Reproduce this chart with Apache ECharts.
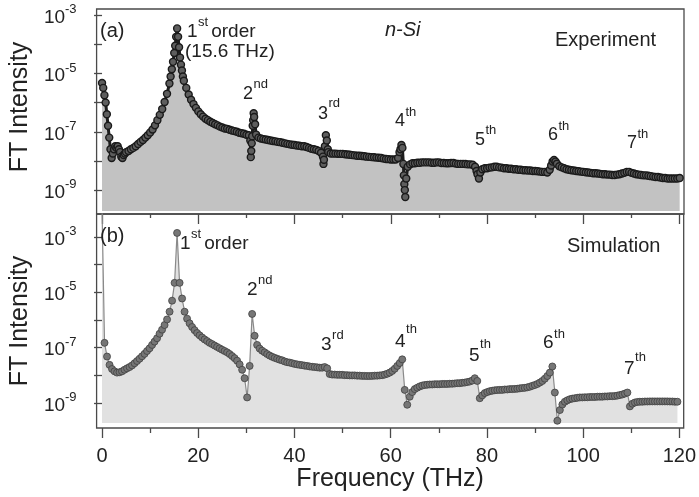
<!DOCTYPE html>
<html>
<head>
<meta charset="utf-8">
<script src="https://cdn.jsdelivr.net/npm/echarts@6/dist/echarts.min.js"></script>
<style>html,body{margin:0;padding:0;background:#fff}#chart{width:699px;height:497px}</style>
</head>
<body>
<div id="chart"></div>
<script>
// ---------------- data ----------------
// Experiment (panel a): [frequency THz, FT intensity]
const experiment = [
[0,4.7e-6],[0.25,3.2e-6],[0.5,1.8e-6],[0.75,1.0e-6],[1.0,4.0e-7],[1.25,1.6e-7],[1.5,6.3e-8],[1.75,2.5e-8],[2.0,1.26e-8],[2.25,1.8e-8],
[2.5,2.5e-8],[2.75,3.2e-8],[3.0,2.8e-8],[3.25,3.2e-8],[3.5,2.5e-8],[3.75,2.0e-8],[4.0,1.4e-8],[4.25,1.26e-8],[4.5,1.6e-8],[4.75,1.8e-8],
[5.0,2.0e-8],[5.5,2.2e-8],[6.0,2.5e-8],[6.5,2.8e-8],[7.0,3.2e-8],[7.5,3.8e-8],[8.0,4.5e-8],[8.5,5.2e-8],[9.0,6.3e-8],[9.5,7.6e-8],
[10.0,9.5e-8],[10.5,1.2e-7],[11.0,1.66e-7],[11.5,2.5e-7],[12.0,3.8e-7],[12.5,6.0e-7],[13.0,1.05e-6],[13.5,2.0e-6],[14.0,4.5e-6],[14.25,7.9e-6],
[14.5,1.4e-5],[14.75,2.5e-5],[15.0,5.0e-5],[15.2,8.9e-5],[15.4,1.8e-4],[15.6,3.5e-4],[15.8,1.8e-4],[16.0,7.9e-5],[16.2,3.5e-5],[16.4,2.0e-5],
[16.6,1.26e-5],[16.8,7.9e-6],[17.0,5.6e-6],[17.5,3.2e-6],[18.0,1.9e-6],[18.5,1.26e-6],[19.0,8.9e-7],[19.5,6.6e-7],[20.0,5.0e-7],[20.5,4.0e-7],
[21.0,3.3e-7],[21.5,2.8e-7],[22.0,2.5e-7],[22.5,2.2e-7],[23.0,2.0e-7],[23.5,1.8e-7],[24.0,1.66e-7],[24.5,1.5e-7],[25.0,1.4e-7],[25.5,1.3e-7],
[26.0,1.26e-7],[26.5,1.17e-7],[27.0,1.1e-7],[27.5,1.05e-7],[28.0,1.0e-7],[28.5,9.3e-8],[29.0,8.9e-8],[29.5,8.5e-8],[30.0,7.9e-8],[30.5,7.6e-8],
[30.8,5.0e-8],[30.9,1.35e-8],[31.0,2.2e-8],[31.1,4.0e-8],[31.2,7.0e-8],[31.3,1.6e-7],[31.4,2.5e-7],[31.5,4.3e-7],[31.6,3.2e-7],[31.8,1.8e-7],
[32.0,8.0e-8],[32.5,6.3e-8],[33.0,5.9e-8],[33.5,5.6e-8],[34.0,5.4e-8],[34.5,5.2e-8],[35.0,5.0e-8],[35.5,4.8e-8],[36.0,4.7e-8],[36.5,4.5e-8],
[37.0,4.4e-8],[37.5,4.2e-8],[38.0,4.0e-8],[38.5,3.85e-8],[39.0,3.7e-8],[39.5,3.6e-8],[40.0,3.5e-8],[40.5,3.4e-8],[41.0,3.3e-8],[41.5,3.2e-8],
[42.0,3.2e-8],[42.5,3.0e-8],[43.0,2.8e-8],[43.5,2.6e-8],[44.0,2.5e-8],[44.5,2.4e-8],[45.0,2.2e-8],[45.5,1.9e-8],[45.9,1.4e-8],[46.0,7.9e-9],
[46.1,1.1e-8],[46.3,3.2e-8],[46.5,7.6e-8],[46.7,5.0e-8],[46.9,2.5e-8],[47.0,2.0e-8],[47.5,1.8e-8],[48.0,1.78e-8],[48.5,1.78e-8],[49.0,1.75e-8],
[49.5,1.75e-8],[50.0,1.74e-8],[50.5,1.7e-8],[51.0,1.66e-8],[51.5,1.62e-8],[52.0,1.58e-8],[52.5,1.55e-8],[53.0,1.5e-8],[53.5,1.5e-8],[54.0,1.48e-8],
[54.5,1.45e-8],[55.0,1.4e-8],[55.5,1.38e-8],[56.0,1.35e-8],[56.5,1.33e-8],[57.0,1.3e-8],[57.5,1.28e-8],[58.0,1.26e-8],[58.5,1.2e-8],[59.0,1.17e-8],
[59.5,1.15e-8],[60.0,1.12e-8],[60.5,1.12e-8],[61.0,1.12e-8],[61.5,1.26e-8],[61.8,2.0e-8],[62.0,2.5e-8],[62.2,3.5e-8],[62.4,2.8e-8],[62.6,7.9e-9],
[62.7,3.2e-9],[62.8,1.6e-9],[62.9,1.0e-9],[63.0,5.8e-10],[63.2,2.5e-9],[63.5,6.3e-9],[64.0,7.6e-9],[64.5,8.3e-9],[65.0,8.3e-9],[65.5,8.7e-9],
[66.0,8.7e-9],[66.5,8.9e-9],[67.0,8.9e-9],[67.5,8.9e-9],[68.0,8.9e-9],[68.5,8.7e-9],[69.0,8.7e-9],[69.5,8.9e-9],[70.0,8.9e-9],[70.5,8.5e-9],
[71.0,8.5e-9],[71.5,8.3e-9],[72.0,8.3e-9],[72.5,8.5e-9],[73.0,8.5e-9],[73.5,8.1e-9],[74.0,7.9e-9],[74.5,7.9e-9],[75.0,7.9e-9],[75.5,7.8e-9],
[76.0,7.6e-9],[76.5,7.6e-9],[77.0,7.4e-9],[77.5,6.3e-9],[77.8,4.5e-9],[78.0,3.5e-9],[78.3,2.5e-9],[78.6,4.0e-9],[79.0,5.2e-9],[79.5,5.6e-9],
[80.0,5.6e-9],[80.5,5.9e-9],[81.0,6.0e-9],[81.5,6.3e-9],[82.0,6.3e-9],[82.5,6.0e-9],[83.0,5.9e-9],[83.5,5.6e-9],[84.0,5.6e-9],[84.5,5.4e-9],
[85.0,5.4e-9],[85.5,5.2e-9],[86.0,5.2e-9],[86.5,5.0e-9],[87.0,5.0e-9],[87.5,4.8e-9],[88.0,4.8e-9],[88.5,4.7e-9],[89.0,4.7e-9],[89.5,4.5e-9],
[90.0,4.5e-9],[90.5,4.4e-9],[91.0,4.3e-9],[91.5,4.2e-9],[92.0,4.2e-9],[92.5,4.0e-9],[93.0,5.0e-9],[93.3,7.0e-9],[93.6,9.5e-9],[93.9,1.07e-8],
[94.2,9.5e-9],[94.5,8.0e-9],[95.0,6.6e-9],[95.5,6.0e-9],[96.0,5.6e-9],[96.5,5.2e-9],[97.0,5.0e-9],[97.5,4.8e-9],[98.0,4.7e-9],[98.5,4.5e-9],
[99.0,4.4e-9],[99.5,4.3e-9],[100.0,4.2e-9],[100.5,4.1e-9],[101.0,4.0e-9],[101.5,3.9e-9],[102.0,3.8e-9],[102.5,3.8e-9],[103.0,3.7e-9],[103.5,3.6e-9],
[104.0,3.5e-9],[104.5,3.5e-9],[105.0,3.4e-9],[105.5,3.4e-9],[106.0,3.3e-9],[106.5,3.3e-9],[107.0,3.4e-9],[107.5,3.5e-9],[108.0,3.7e-9],[108.5,3.9e-9],
[109.0,4.2e-9],[109.5,4.2e-9],[110.0,3.9e-9],[110.5,3.7e-9],[111.0,3.5e-9],[111.5,3.4e-9],[112.0,3.3e-9],[112.5,3.2e-9],[113.0,3.2e-9],[113.5,3.1e-9],
[114.0,3.0e-9],[114.5,2.9e-9],[115.0,2.8e-9],[115.5,2.8e-9],[116.0,2.7e-9],[116.5,2.6e-9],[117.0,2.6e-9],[117.5,2.5e-9],[118.0,2.5e-9],[118.5,2.5e-9],
[119.0,2.5e-9],[119.5,2.5e-9],[120.0,2.6e-9]
];

// Simulation (panel b)
const simFreq = [
0,0.52,1.04,1.56,2.08,2.6,3.12,3.64,4.16,4.68,
5.2,5.72,6.24,6.76,7.28,7.8,8.32,8.84,9.36,9.88,
10.4,10.92,11.44,11.96,12.48,13,13.52,14.04,14.56,15.08,
15.6,16.12,16.64,17.16,17.68,18.2,18.72,19.24,19.76,20.28,
20.8,21.32,21.84,22.36,22.88,23.4,23.92,24.44,24.96,25.48,
26,26.52,27.04,27.56,28.08,28.6,29.12,29.64,30.16,30.68,
31.2,31.72,32.24,32.76,33.28,33.8,34.32,34.84,35.36,35.88,
36.4,36.92,37.44,37.96,38.48,39,39.52,40.04,40.56,41.08,
41.6,42.12,42.64,43.16,43.68,44.2,44.72,45.24,45.76,46.28,
46.8,47.32,47.84,48.36,48.88,49.4,49.92,50.44,50.96,51.48,
52,52.52,53.04,53.56,54.08,54.6,55.12,55.64,56.16,56.68,
57.2,57.72,58.24,58.76,59.28,59.8,60.32,60.84,61.36,61.88,
62.4,62.92,63.44,63.96,64.48,65,65.52,66.04,66.56,67.08,
67.6,68.12,68.64,69.16,69.68,70.2,70.72,71.24,71.76,72.28,
72.8,73.32,73.84,74.36,74.88,75.4,75.92,76.44,76.96,77.48,
78,78.52,79.04,79.56,80.08,80.6,81.12,81.64,82.16,82.68,
83.2,83.72,84.24,84.76,85.28,85.8,86.32,86.84,87.36,87.88,
88.4,88.92,89.44,89.96,90.48,91,91.52,92.04,92.56,93.08,
93.6,94.12,94.64,95.16,95.68,96.2,96.72,97.24,97.76,98.28,
98.8,99.32,99.84,100.36,100.88,101.4,101.92,102.44,102.96,103.48,
104,104.52,105.04,105.56,106.08,106.6,107.12,107.64,108.16,108.68,
109.2,109.72,110.24,110.76,111.28,111.8,112.32,112.84,113.36,113.88,
114.4,114.92,115.44,115.96,116.48,117,117.52,118.04,118.56,119.08,
119.6
];
const simIntensity = [
1e-2,1.5e-7,4.8e-8,2.4e-8,1.7e-8,1.4e-8,1.26e-8,1.3e-8,1.4e-8,1.6e-8,
1.8e-8,2.0e-8,2.3e-8,2.75e-8,3.3e-8,4.0e-8,4.9e-8,6.0e-8,7.6e-8,9.5e-8,
1.26e-7,1.66e-7,2.2e-7,3.2e-7,4.5e-7,6.6e-7,1.05e-6,2.0e-6,5.0e-6,2.2e-5,
1.4e-3,2.2e-5,6.0e-6,2.0e-6,1.12e-6,7.6e-7,5.6e-7,4.3e-7,3.4e-7,2.8e-7,
2.35e-7,2.0e-7,1.74e-7,1.5e-7,1.35e-7,1.2e-7,1.07e-7,9.5e-8,8.5e-8,7.6e-8,
6.8e-8,5.9e-8,5.0e-8,4.2e-8,3.4e-8,2.5e-8,1.6e-8,7.9e-9,1.6e-9,2.2e-8,
1.66e-6,2.7e-7,1.26e-7,9.3e-8,7.8e-8,6.8e-8,5.9e-8,5.2e-8,4.7e-8,4.3e-8,
4.0e-8,3.7e-8,3.5e-8,3.2e-8,3.0e-8,2.9e-8,2.75e-8,2.6e-8,2.5e-8,2.4e-8,
2.35e-8,2.25e-8,2.2e-8,2.1e-8,2.05e-8,2.0e-8,1.95e-8,1.9e-8,1.9e-8,2.0e-8,
1.8e-8,1.12e-8,1.07e-8,1.07e-8,1.05e-8,1.05e-8,1.05e-8,1.02e-8,1.02e-8,1.0e-8,
1.0e-8,1.0e-8,9.8e-9,9.8e-9,9.6e-9,9.6e-9,9.5e-9,9.5e-9,9.6e-9,9.8e-9,
9.8e-9,1.0e-8,1.02e-8,1.07e-8,1.15e-8,1.26e-8,1.45e-8,1.74e-8,2.2e-8,2.8e-8,
3.8e-8,3.0e-9,8.7e-10,1.7e-9,2.5e-9,3.2e-9,3.6e-9,4.0e-9,4.3e-9,4.5e-9,
4.6e-9,4.7e-9,4.7e-9,4.8e-9,4.8e-9,4.8e-9,4.9e-9,4.9e-9,4.9e-9,5.0e-9,
5.0e-9,5.1e-9,5.25e-9,5.25e-9,5.4e-9,5.5e-9,5.75e-9,6.0e-9,6.5e-9,7.9e-9,
6.3e-9,1.5e-9,1.9e-9,2.3e-9,2.5e-9,2.7e-9,2.8e-9,2.9e-9,2.95e-9,3.0e-9,
3.0e-9,3.1e-9,3.1e-9,3.2e-9,3.2e-9,3.25e-9,3.3e-9,3.4e-9,3.5e-9,3.55e-9,
3.7e-9,3.9e-9,4.2e-9,4.5e-9,4.9e-9,5.5e-9,6.3e-9,7.6e-9,9.5e-9,1.26e-8,
2.1e-8,2.4e-9,2.3e-10,5.6e-10,8.9e-10,1.12e-9,1.26e-9,1.38e-9,1.45e-9,1.5e-9,
1.55e-9,1.6e-9,1.6e-9,1.62e-9,1.62e-9,1.66e-9,1.66e-9,1.66e-9,1.7e-9,1.7e-9,
1.7e-9,1.74e-9,1.74e-9,1.78e-9,1.78e-9,1.8e-9,1.86e-9,1.95e-9,2.05e-9,2.2e-9,
2.4e-9,7.6e-10,9.5e-10,1.05e-9,1.1e-9,1.12e-9,1.12e-9,1.14e-9,1.14e-9,1.15e-9,
1.15e-9,1.15e-9,1.15e-9,1.15e-9,1.15e-9,1.15e-9,1.15e-9,1.14e-9,1.14e-9,1.12e-9,
1.12e-9
];

// tick values
const xMajorTicks = [0, 20, 40, 60, 80, 100, 120];
const xMinorTicks = [10, 30, 50, 70, 90, 110];
const yTickValues = [1e-9, 1e-8, 1e-7, 1e-6, 1e-5, 1e-4, 1e-3];
const yLabelValues = [1e-9, 1e-7, 1e-5, 1e-3];

// ---------------- styling / layout ----------------
const FONT = '"Liberation Sans", Arial, Helvetica, sans-serif';
const TEXT = '#222';
const AXIS = '#4a4a4a';
const X_MIN = -1.13, X_MAX = 120.9;
const TOP_Y_MIN = Math.pow(10, -9.82), TOP_Y_MAX = Math.pow(10, -2.79);
const BOT_Y_MIN = Math.pow(10, -9.9), BOT_Y_MAX = Math.pow(10, -2.17);
const FILL_BASE = Math.pow(10, -9.72);

const simData = simFreq.map((f, i) => [f, simIntensity[i]]);

const yRich = {
  b: {fontSize: 19, fontFamily: FONT, color: TEXT, padding: [5, 0, 0, 0]},
  s: {fontSize: 13, fontFamily: FONT, color: TEXT, verticalAlign: 'top'}
};
function yFormatter(v) {
  const e = Math.round(Math.log10(v));
  return '{b|10}{s|' + e + '}';
}

function xAxisDef(grid, ticks, len, showLabels, name) {
  return {
    gridIndex: grid, type: 'value', position: 'bottom', min: X_MIN, max: X_MAX,
    axisLine: {show: false}, splitLine: {show: false},
    axisTick: {show: true, inside: false, length: len, customValues: ticks, lineStyle: {color: AXIS, width: 1.3}},
    axisLabel: showLabels ? {show: true, customValues: ticks, margin: 18, fontSize: 20, fontFamily: FONT, color: TEXT} : {show: false},
    name: name || '', nameLocation: 'middle', nameGap: 38,
    nameTextStyle: {fontSize: 25, fontFamily: FONT, color: TEXT}
  };
}
function yAxisDef(grid, min, max, pad) {
  return {
    gridIndex: grid, type: 'log', logBase: 10, min: min, max: max,
    axisLine: {show: false}, splitLine: {show: false}, minorTick: {show: false},
    axisTick: {show: true, inside: false, length: 8, customValues: yTickValues, lineStyle: {color: AXIS, width: 1.3}},
    axisLabel: {show: true, customValues: yLabelValues, formatter: yFormatter, rich: yRich, margin: 20},
    name: 'FT Intensity', nameLocation: 'middle', nameGap: 57, nameRotate: 90,
    nameTextStyle: {fontSize: 25, fontFamily: FONT, color: TEXT, padding: pad}
  };
}

// ---------------- annotations ----------------
const mctx = document.createElement('canvas').getContext('2d');
function textWidth(t, size, style) {
  mctx.font = (style ? style + ' ' : '') + size + 'px "Liberation Sans"';
  return mctx.measureText(t).width;
}
function plain(t, x, yMid, size, style) {
  return {type: 'text', x: x, y: yMid, silent: true, z: 100,
    style: {text: t, fontSize: size, fontFamily: FONT, fontStyle: style || 'normal', fill: TEXT, align: 'left', verticalAlign: 'middle'}};
}
function withSup(base, sup, x, yMid, size, supSize, rise, after) {
  const out = [plain(base, x, yMid, size)];
  const xs = x + textWidth(base, size) + 0.5;
  out.push(plain(sup, xs, yMid - rise, supSize));
  if (after) out.push(plain(after, xs + textWidth(sup, supSize) + 3, yMid, size));
  return out;
}
const annotations = [].concat(
  [plain('(a)', 100, 31, 20)],
  withSup('1', 'st', 187, 31.5, 19, 13, 9, 'order'),
  [plain('(15.6 THz)', 185, 51.5, 19)],
  [plain('n-Si', 385, 30, 20, 'italic')],
  [plain('Experiment', 555, 40, 20)],
  withSup('2', 'nd', 243, 94, 18, 13, 10),
  withSup('3', 'rd', 318, 114, 18, 13, 11),
  withSup('4', 'th', 395, 121, 18, 13, 9),
  withSup('5', 'th', 475, 140, 18, 13, 10),
  withSup('6', 'th', 548, 135.5, 18, 13, 9.5),
  withSup('7', 'th', 627, 143, 18, 13, 9),
  [plain('(b)', 100, 236, 20)],
  withSup('1', 'st', 180, 244, 19, 13, 10, 'order'),
  withSup('2', 'nd', 247, 290, 19, 13, 10),
  withSup('3', 'rd', 321, 345, 19, 13, 10),
  withSup('4', 'th', 395, 342, 19, 13, 13),
  withSup('5', 'th', 469, 355.5, 19, 13, 11.5),
  withSup('6', 'th', 543, 342.5, 19, 13, 8.5),
  withSup('7', 'th', 624, 368.5, 19, 13, 11.5),
  [plain('Simulation', 567, 246, 20)]
);

const chart = echarts.init(document.getElementById('chart'), null, {renderer: 'canvas'});
chart.setOption({
  animation: false,
  backgroundColor: '#fff',
  grid: [
    {left: 91, top: 9, width: 593, height: 205, show: true, borderColor: AXIS, borderWidth: 1.3, backgroundColor: 'transparent'},
    {left: 91, top: 214, width: 593, height: 214, show: true, borderColor: AXIS, borderWidth: 1.3, backgroundColor: 'transparent'}
  ],
  xAxis: [
    xAxisDef(0, xMajorTicks, 10, false),
    xAxisDef(0, xMinorTicks, 4, false),
    xAxisDef(1, xMajorTicks, 10, true, 'Frequency (THz)'),
    xAxisDef(1, xMinorTicks, 5, false)
  ],
  yAxis: [
    yAxisDef(0, TOP_Y_MIN, TOP_Y_MAX, [0, 0, 0, 9]),
    yAxisDef(1, BOT_Y_MIN, BOT_Y_MAX, [0, 0, 0, 0])
  ],
  series: [
    {
      name: 'Experiment', type: 'line', xAxisIndex: 0, yAxisIndex: 0, data: experiment,
      symbol: 'circle', symbolSize: 7, showSymbol: true, showAllSymbol: true, clip: true,
      lineStyle: {width: 3, color: '#1e1e1e'},
      itemStyle: {color: '#5e5e5e', borderColor: '#1a1a1a', borderWidth: 1.4},
      areaStyle: {color: '#c2c2c2', opacity: 1, origin: FILL_BASE},
      emphasis: {disabled: true}
    },
    {
      name: 'Simulation', type: 'line', xAxisIndex: 2, yAxisIndex: 1, data: simData,
      symbol: 'circle', symbolSize: 7, showSymbol: true, showAllSymbol: true, clip: true,
      lineStyle: {width: 1.2, color: '#8a8a8a'},
      itemStyle: {color: '#767676', borderColor: '#404040', borderWidth: 0.8},
      areaStyle: {color: '#e1e1e1', opacity: 1, origin: FILL_BASE},
      emphasis: {disabled: true}
    }
  ],
  graphic: annotations
});
</script>
</body>
</html>
